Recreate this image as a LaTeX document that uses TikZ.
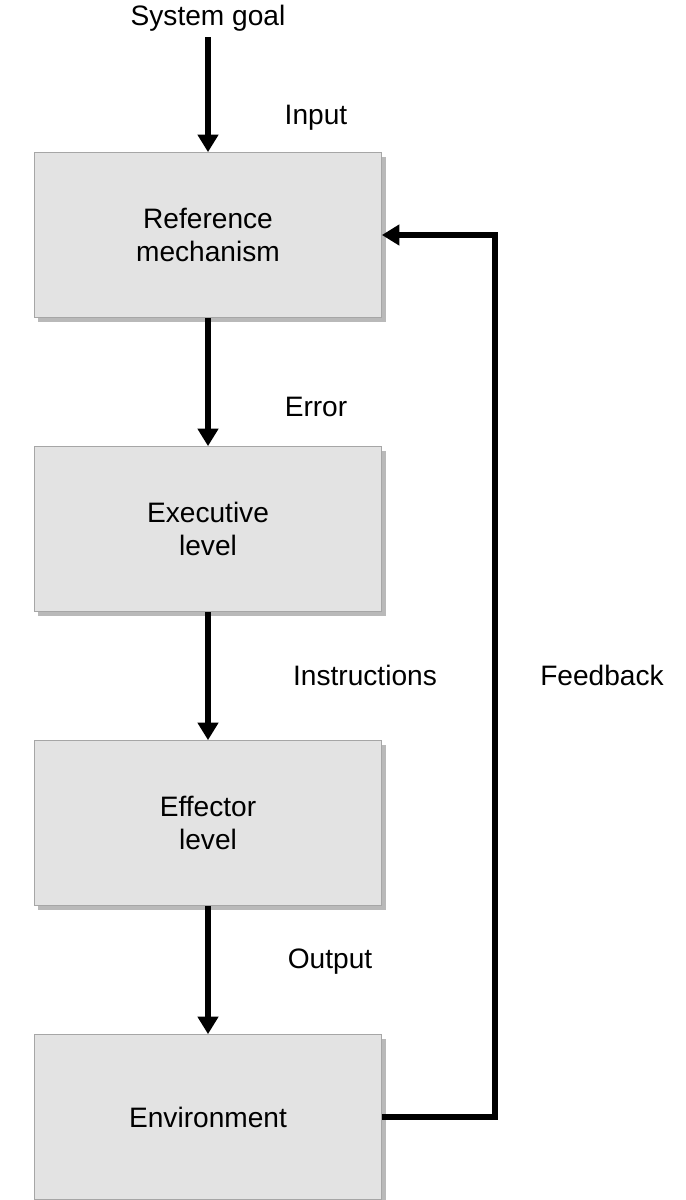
\documentclass[tikz,border=0pt]{standalone}
\usepackage{fontspec}
\setmainfont{Liberation Sans}
\usetikzlibrary{arrows.meta,shadows}
\begin{document}
\begin{tikzpicture}[x=0.02cm,y=-0.02cm,
  box/.style={draw=gray!70,fill=gray!22,minimum width=347*0.02cm,minimum height=165*0.02cm,align=center,font=\fontsize{16}{19}\selectfont,
    drop shadow={shadow xshift=0.08cm,shadow yshift=-0.08cm,fill=gray!55,opacity=1}},
  lab/.style={font=\fontsize{16}{19}\selectfont},
  arr/.style={line width=3pt,-{Triangle[length=0.35cm,width=0.4cm]}}]
\useasboundingbox (0,0) rectangle (686,1200);
\node[box] (ref) at (208,235) {Reference\\mechanism};
\node[box] (exe) at (208,529) {Executive\\level};
\node[box] (eff) at (208,823) {Effector\\level};
\node[box] (env) at (208,1117) {Environment};
\node[lab] (goal) at (208,18) {System goal};
\node[lab] at (316,118) {Input};
\node[lab] at (316,407) {Error};
\node[lab] at (365,675) {Instructions};
\node[lab] at (330,962) {Output};
\node[lab] at (602,675) {Feedback};
\draw[arr] (goal.south) -- (ref.north);
\draw[arr] (ref) -- (exe);
\draw[arr] (exe) -- (eff);
\draw[arr] (eff) -- (env);
\draw[arr] (env.east) -- (495,1117) -- (495,235) -- (ref.east);
\end{tikzpicture}
\end{document}
